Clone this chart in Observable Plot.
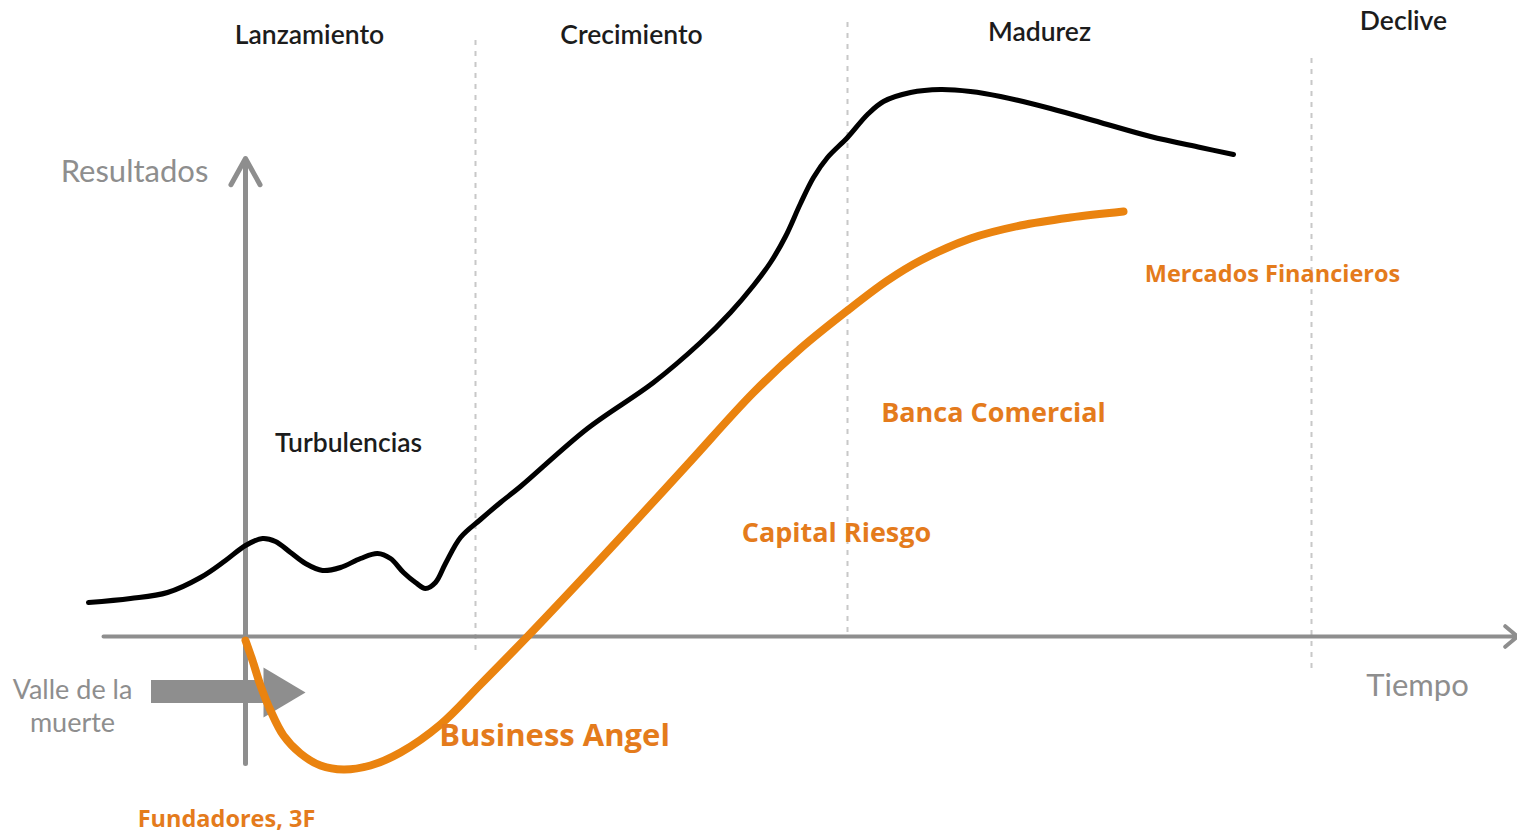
<!DOCTYPE html>
<html><head><meta charset="utf-8">
<script src="https://cdn.jsdelivr.net/npm/d3@7"></script>
<script src="https://cdn.jsdelivr.net/npm/@observablehq/plot@0.6"></script>
<style>
html,body{margin:0;padding:0;background:#fff;}
#chart svg{display:block;}
</style></head><body><div id="chart"></div>
<script>
// ---- data (time units along x, result units along y; 0 = time axis) ----
const blackTime   = [88,130,167,200,225,245,262,275,290,305,322,340,360,377,390,403,415,425,435,445,460,480,500,520,587,653,700,730,753,770,785,800,813,827,847,867,883,910,940,970,1000,1050,1100,1150,1200,1233];
const blackResult = [34,38,44,59,76,91,98,95,84,73,66,69,78,83,78,64,54,48,54,73,99,117,134,150,208,254,294,324,351,374,400,433,459,479,499,522,535,544,547,545,540,528,514,500,489,482];

const orangeTime   = [245,252,260,270,283,300,320,343,370,400,440,480,527,580,620,687,753,800,847,887,920,970,1020,1070,1123];
const orangeResult = [-4,-24,-49,-74,-99,-117,-129,-133,-129,-116,-88,-48,0,56,99,172,244,288,326,356,376,398,411,419,425];

const phaseNames  = ["Lanzamiento","Crecimiento","Madurez","Declive"];
const phaseLabelX = [309,631,1039,1403];
const phaseLabelY = [601,601,604,615];

const phaseBounds   = [475,847,1311];
const phaseBoundTop = [596,614,578];
const phaseBoundBot = [-17,0,-34];

const timeAxis   = [103,1517];   // start, end of time axis (at result 0)
const resultAxis = [-127,478];   // start, end of result axis
const originTime = 245;

const arrowBodyTime   = [151,263];
const arrowBodyResult = [-44,-67];
const arrowHeadTime   = [263,305,263];
const arrowHeadResult = [-31,-56,-81];

const axisTitles  = ["Resultados","Tiempo"];
const axisTitleX  = [134,1417];
const axisTitleY  = [464,-50];

const valleLines  = ["Valle de la","muerte"];
const valleX      = [72,72];
const valleY      = [-54,-87];

const turbLabel   = ["Turbulencias"];
const turbX       = [348];
const turbY       = [193];

const fundingNames = ["Mercados Financieros","Banca Comercial","Capital Riesgo","Business Angel","Fundadores, 3F"];
const fundingX     = [1272,993,836,554,226];
const fundingY     = [362,223,103,-100,-183];

// ---- styles ----
const fundingSizes = [23.5,27,27,31,23.5];
const GRAY = "#8e8e8e";
const ORANGE = "#EA830F";
const ORANGE_TXT = "#E47B1C";
const FONT = "Lato, 'Open Sans', sans-serif";
const BOLDFONT = "'Open Sans', Lato, sans-serif";

const black = blackTime.map((t,i)=>({t, r: blackResult[i]}));
const orange = orangeTime.map((t,i)=>({t, r: orangeResult[i]}));
const head = arrowHeadTime.map((t,i)=>({t, r: arrowHeadResult[i]}));

const fundingMarks = fundingNames.map((name,i)=>Plot.text([name], {
  x: () => fundingX[i], y: () => fundingY[i], text: d=>d,
  fill: ORANGE_TXT, fontWeight: "bold", fontSize: fundingSizes[i], fontFamily: BOLDFONT
}));

const chart = Plot.plot({
  width: 1517, height: 833,
  marginTop: 0, marginRight: 0, marginBottom: 0, marginLeft: 0,
  x: {domain: [0,1517], axis: null},
  y: {domain: [-197,636], axis: null},
  style: {fontFamily: FONT, background: "#fff"},
  marks: [
    Plot.ruleX(phaseBounds, {x: d=>d, y1: (d,i)=>phaseBoundTop[i], y2: (d,i)=>phaseBoundBot[i],
      stroke: "#c8c8c8", strokeWidth: 2, strokeDasharray: "5,6"}),
    Plot.arrow([0], {x1: timeAxis[0], y1: 0, x2: timeAxis[1], y2: 0,
      stroke: GRAY, strokeWidth: 4, headLength: 6, headAngle: 80}),
    Plot.arrow([0], {x1: originTime, y1: resultAxis[0], x2: originTime, y2: resultAxis[1],
      stroke: GRAY, strokeWidth: 5, headLength: 9, headAngle: 58}),
    Plot.rect([0], {x1: arrowBodyTime[0], x2: arrowBodyTime[1], y1: arrowBodyResult[0], y2: arrowBodyResult[1], fill: GRAY}),
    Plot.line(head, {x: "t", y: "r", fill: GRAY, stroke: "none"}),
    Plot.line(black, {x: "t", y: "r", stroke: "#000", strokeWidth: 5, curve: "catmull-rom"}),
    Plot.line(orange, {x: "t", y: "r", stroke: ORANGE, strokeWidth: 8, curve: "catmull-rom"}),
    Plot.text(phaseNames, {x: (d,i)=>phaseLabelX[i], y: (d,i)=>phaseLabelY[i], text: d=>d,
      fill: "#1c1c1c", fontSize: 26.5, fontWeight: 600, fontFamily: FONT}),
    Plot.text(axisTitles, {x: (d,i)=>axisTitleX[i], y: (d,i)=>axisTitleY[i], text: d=>d,
      fill: GRAY, fontSize: 31, fontFamily: FONT}),
    Plot.text(valleLines, {x: (d,i)=>valleX[i], y: (d,i)=>valleY[i], text: d=>d,
      fill: GRAY, fontSize: 27, fontFamily: FONT}),
    Plot.text(turbLabel, {x: (d,i)=>turbX[i], y: (d,i)=>turbY[i], text: d=>d,
      fill: "#1c1c1c", fontSize: 26.5, fontWeight: 600, fontFamily: FONT}),
    ...fundingMarks
  ]
});
document.getElementById("chart").appendChild(chart);
</script></body></html>
